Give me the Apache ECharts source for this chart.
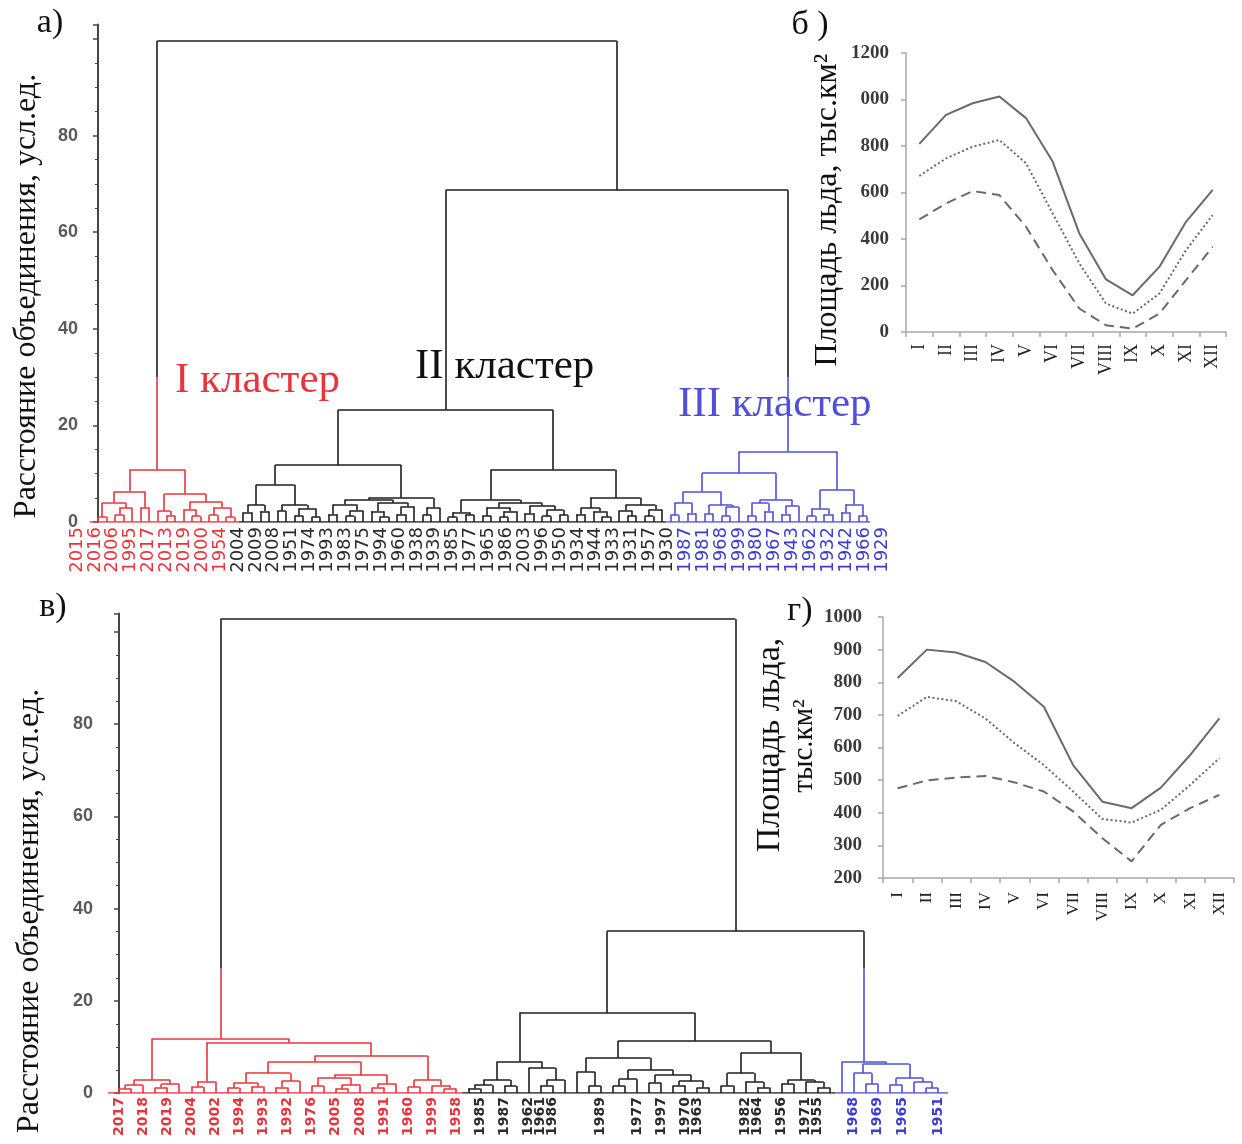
<!DOCTYPE html>
<html><head><meta charset="utf-8">
<script src="https://cdn.jsdelivr.net/npm/echarts@6/dist/echarts.min.js"></script>
<style>html,body{margin:0;padding:0;background:#fff}#c{width:1242px;height:1144px}</style>
</head><body><div id="c"></div>
<script>
// ================= DATA =================
const months = ['I','II','III','IV','V','VI','VII','VIII','IX','X','XI','XII'];
// panel б (thousand km2)
const bSolid  = [809, 934, 984, 1013, 920, 733, 424, 226, 158, 280, 474, 611];
const bDotted = [671, 747, 797, 826, 726, 510, 295, 122, 79, 165, 352, 503];
const bDashed = [484, 553, 606, 589, 453, 266, 101, 29, 14, 79, 223, 366];
// panel г (thousand km2)
const gSolid  = [813, 900, 891, 862, 801, 725, 546, 434, 414, 477, 577, 689];
const gDotted = [697, 755, 742, 689, 613, 546, 465, 381, 370, 409, 485, 567];
const gDashed = [475, 499, 508, 513, 493, 465, 404, 322, 251, 363, 414, 455];

// panel а) dendrogram: nodes are [linkage distance, left, right], leaves are years
const aClusterI = [10.8,
  [6.3, [4.0, [1.1,'2015','2012'], [2.9,[1.5,'2016','2018'],'2006']], [3.0,'2007','1995']],
  [5.8, [2.3,'2011',[1.3,'2017','2014']], [4.2, [2.6,'2013',[1.2,'2010','2019']], [3.0,[1.4,'2005','2000'],[1.0,'2002','1954']]]]];
const aClusterII = [23.2,
  [11.8,
    [7.7, [3.5,[2.0,'2001','2004'],[2.2,'1997','2009']], [3.5,[2.3,'1998','2008'],[2.8,[1.3,'1952','1951'],[1.0,'1972','1974']]]],
    [5.0, [4.6, [3.6,[1.6,'1990','1993'],[2.4,[1.2,'1989','1983'],'1976']], [4.0,[2.2,'1975',[1.1,'1991','1994']],[3.2,[1.6,'1961','1960'],'1940']]], [3.0,[1.4,'1938','1937'],'1939']]],
  [10.8,
    [4.6, [2.0,[1.0,'1984','1985'],[1.5,'1978','1977']], [3.9,[3.0,[1.3,'1963','1965'],[2.2,[1.0,'1988','1986'],'1992']],[3.3,[1.8,'2003','1970'],[2.5,[1.2,'1996','1949'],[1.4,'1950','1936']]]]],
    [5.0, [2.9,[1.6,'1934','1945'],[2.2,'1944',[1.1,'1935','1933']]], [3.5,[2.4,'1941',[1.3,'1931','1956']],[2.6,[1.2,'1957','1953'],'1930']]]]];
const aClusterIII = [14.6,
  [10.1,
    [6.3, [4.0,[1.4,'1982','1987'],[1.8,'1979','1981']], [3.5,[1.7,'1971','1968'],[3.1,[1.2,'1973','1999'],'1969']]],
    [4.6, [3.9,[1.3,'1980','1964'],[2.2,'1967','1955']], [3.3,[1.6,'1943','1958'],'1962']]],
  [6.6, [2.8,[1.2,'1946','1932'],[1.6,'1947','1942']], [3.6,[2.0,'1948','1966'],[1.2,'1959','1929']]]];
const aTopHeights = [99.6, 68.7];   // root, (II + III)
const aCutoff = 30;

// panel в) dendrogram
const vClusterI = [11.8,
  [2.8, [1.7,[1.0,'2017','2016'],'2018'], [1.9,[1.2,'2015','2019'],'2014']],
  [10.9, [2.5,[1.3,'2004','2013'],'2002'],
    [8.0,
      [6.8, [4.3,[2.2,[1.1,'2012','1994'],[1.4,'2011','1993']],[2.6,[1.2,'2010','1992'],'2009']],
            [3.9,[3.3,[1.5,'1976','2007'],[1.8,[1.0,'2005','2006'],'2008']],[2.0,[1.2,'2003','1991'],'2001']]],
      [2.8, [1.3,'1960','2000'], [1.6,'1999',[1.0,'1995','1958']]]]]];
const vClusterII = [17.4,
  [6.8, [2.8,[1.7,[1.0,'1984','1985'],'1988'],[1.5,'1987','1990']], [5.4,'1962',[2.8,[1.6,'1961','1986'],'1966']]],
  [11.3,
    [7.6, [4.6,'1967',[1.5,'1972','1989']], [5.0,[3.0,[1.5,'1973','1974'],'1977'],[3.9,[2.2,'1975','1997'],[2.6,[1.6,'1978','1970'],[1.2,'1963','1979']]]]],
    [8.7, [4.3,[1.6,'1980','1981'],[2.4,'1982',[1.2,'1964','1983']]], [2.8,[2.0,'1956','1996'],[2.4,'1971',[1.2,'1955','1998']]]]]];
const vClusterIII = [6.8, '1952', [6.3, [4.3,'1968',[2.0,'1953','1969']], [3.2,[1.8,'1954','1965'],[2.4,'1957',[1.1,'1959','1951']]]]];
const vTopHeights = [102.8, 35.1];  // root, (II + III)
const vCutoff = 27;
const vShown = ['2017','2018','2019','2004','2002','1994','1993','1992','1976','2005','2008','1991','1960','1999','1958',
  '1985','1987','1962','1961','1986','1989','1977','1997','1970','1963','1982','1964','1956','1971','1955',
  '1968','1969','1965','1951'];

// ================= BUILD =================
const RED = '#e8343c', BLUE = '#4f4fdc', BLACK = '#1e1e1e';
const SERIF = "'Liberation Serif','Times New Roman',serif";
const SANS = "'Liberation Sans',Arial,sans-serif";

function buildDendro(root, clusterColor, cutoff, xMin, xMax) {
  const leaves = [], leafColor = [], segs = [];
  function walk(node, color) {
    const c = clusterColor.get(node) || color;
    if (!Array.isArray(node)) {
      leaves.push(node); leafColor.push(c);
      return { x: leaves.length - 1, h: 0, c };
    }
    const h = node[0];
    const kids = [walk(node[1], c), walk(node[2], c)];
    kids.forEach(k => {
      if (k.c !== c && k.h < cutoff && h > cutoff) {
        segs.push([[k.x, k.h], [k.x, cutoff], k.c]);
        segs.push([[k.x, cutoff], [k.x, h], c]);
      } else segs.push([[k.x, k.h], [k.x, h], k.c]);
    });
    segs.push([[kids[0].x, h], [kids[1].x, h], c]);
    return { x: (kids[0].x + kids[1].x) / 2, h, c };
  }
  walk(root, BLACK);
  // coloured baseline under each run of leaves
  let s = 0;
  for (let i = 1; i <= leaves.length; i++) {
    if (i === leaves.length || leafColor[i] !== leafColor[s]) {
      const x0 = s === 0 ? xMin : s - 0.5;
      const x1 = i === leaves.length ? xMax : i - 0.5;
      segs.push([[x0, 0], [x1, 0], leafColor[s]]);
      s = i;
    }
  }
  return { leaves, leafColor, segs };
}

const aMin = -0.93, aMax = 90.4, vMin = -0.913, vMax = 68.83;
const aTree = [aTopHeights[0], aClusterI, [aTopHeights[1], aClusterII, aClusterIII]];
const vTree = [vTopHeights[0], vClusterI, [vTopHeights[1], vClusterII, vClusterIII]];
const aD = buildDendro(aTree, new Map([[aClusterI, RED], [aClusterII, BLACK], [aClusterIII, BLUE]]), aCutoff, aMin, aMax);
const vD = buildDendro(vTree, new Map([[vClusterI, RED], [vClusterII, BLACK], [vClusterIII, BLUE]]), vCutoff, vMin, vMax);

// labels: panel а shows every other leaf, panel в selected leaves
const aLabelIdx = aD.leaves.map((_, i) => i).filter(i => i % 2 === 0);
const aLabels = aLabelIdx.map(i => aD.leaves[i]);
const aLabelKey = aLabelIdx.map(i => aD.leafColor[i] === RED ? 'r' : aD.leafColor[i] === BLUE ? 'b' : 'k');
const vShownSet = new Set(vShown);
const vLabels = vD.leaves.map(y => vShownSet.has(y) ? y : '');
const vLabelKey = vD.leafColor.map(c => c === RED ? 'r' : c === BLUE ? 'b' : 'k');

function rich(size, weight) {
  const base = { fontSize: size, fontFamily: "'DejaVu Sans',sans-serif", fontWeight: weight };
  return { r: Object.assign({ color: RED }, base), k: Object.assign({ color: '#2a2a2a' }, base), b: Object.assign({ color: '#3c3cd2' }, base) };
}

function linesSeries(d, idx) {
  return {
    type: 'lines', coordinateSystem: 'cartesian2d', xAxisIndex: idx, yAxisIndex: idx, silent: true,
    lineStyle: { width: 1.6, opacity: 1 },
    data: d.segs.map(s => ({ coords: [s[0], s[1]], lineStyle: { color: s[2], width: 1.6, opacity: 1 } }))
  };
}

const dendroY = (gi, max, margin) => ({
  gridIndex: gi, type: 'value', min: 0, max: max, interval: 20,
  axisLine: { show: true, lineStyle: { color: '#454545', width: 2 } },
  axisTick: { show: true, length: 5, lineStyle: { color: '#454545', width: 1.5 } },
  minorTick: { show: true, splitNumber: 4, length: 3, lineStyle: { color: '#454545', width: 1 } },
  splitLine: { show: false },
  axisLabel: { margin: margin, color: '#5a5a5a', fontWeight: 'bold', fontSize: 18, fontFamily: SANS,
    showMaxLabel: false,
    formatter: v => (v % 20 === 0 && v !== 100 ? String(v) : '') }
});
const hiddenX = (gi, min, max) => ({ gridIndex: gi, type: 'value', min, max, show: false });
const hiddenY = gi => ({ gridIndex: gi, type: 'value', min: 0, max: 1, show: false });

const lineY = (gi, min, max, interval, margin, fmt) => ({
  gridIndex: gi, type: 'value', min, max, interval,
  axisLine: { show: true, lineStyle: { color: '#a8a8a8', width: 1.5 } },
  axisTick: { show: true, length: 5, lineStyle: { color: '#a8a8a8', width: 1.5 } },
  splitLine: { show: false },
  axisLabel: { margin, color: '#3a3a3a', fontWeight: 'bold', fontSize: 19, fontFamily: SERIF, formatter: fmt }
});
const lineX = (gi, margin, size) => ({
  gridIndex: gi, type: 'category', data: months, boundaryGap: true,
  axisLine: { show: true, lineStyle: { color: '#a8a8a8', width: 1.5 } },
  axisTick: { show: true, length: 5, lineStyle: { color: '#a8a8a8', width: 1.5 } },
  axisLabel: { rotate: 90, interval: 0, margin, color: '#222', fontSize: size, fontFamily: SERIF }
});
const lineS = (gi, data, type) => ({
  type: 'line', xAxisIndex: gi, yAxisIndex: gi, data, symbol: 'none', silent: true,
  lineStyle: { color: '#6a6a6a', width: 2, type }
});

const txt = (text, x, y, size, color, rot, align) => ({
  type: 'text', x, y, rotation: rot || 0, silent: true,
  style: { text, fill: color || '#111', font: size + 'px ' + SERIF,
    align: align || 'center', textAlign: align || 'center', verticalAlign: 'middle', textVerticalAlign: 'middle' }
});

const option = {
  animation: false,
  backgroundColor: '#fff',
  grid: [
    { left: 90, top: 24.5, width: 780.3, height: 497.5 },          // 0 dendrogram а
    { left: 68, top: 480, width: 823, height: 42 },                // 1 labels а
    { left: 108, top: 613.6, width: 840, height: 479.4 },          // 2 dendrogram в
    { left: 112.98, top: 1050, width: 831.04, height: 43 },        // 3 labels в
    { left: 906, top: 53, width: 320, height: 279 },               // 4 б
    { left: 883, top: 617, width: 351, height: 261 }               // 5 г
  ],
  xAxis: [
    hiddenX(0, aMin, aMax),
    { gridIndex: 1, type: 'category', data: aLabels, boundaryGap: true,
      axisLine: { show: false }, axisTick: { show: false },
      axisLabel: { rotate: 90, interval: 0, margin: 5, rich: rich(18, 'normal'),
        formatter: (v, i) => '{' + aLabelKey[i] + '|' + v + '}' } },
    hiddenX(2, vMin, vMax),
    { gridIndex: 3, type: 'category', data: vLabels, boundaryGap: true,
      axisLine: { show: false }, axisTick: { show: false },
      axisLabel: { rotate: 90, interval: 0, margin: 4, rich: rich(14, 'bold'),
        formatter: (v, i) => (v ? '{' + vLabelKey[i] + '|' + v + '}' : '') } },
    lineX(4, 12, 18),
    lineX(5, 14, 17)
  ],
  yAxis: [
    dendroY(0, 103, 12),
    hiddenY(1),
    dendroY(2, 104, 15),
    hiddenY(3),
    lineY(4, 0, 1200, 200, 17, v => (v === 1000 ? '000' : String(v))),
    lineY(5, 200, 1000, 100, 21, v => String(v))
  ],
  series: [
    linesSeries(aD, 0),
    linesSeries(vD, 2),
    lineS(4, bSolid, 'solid'), lineS(4, bDotted, [2, 2.5]), lineS(4, bDashed, [10, 6]),
    lineS(5, gSolid, 'solid'), lineS(5, gDotted, [2, 2.5]), lineS(5, gDashed, [10, 6])
  ],
  graphic: [
    txt('а)', 50, 23, 34),
    txt('б )', 810, 25, 34),
    txt('в)', 53, 607, 34),
    txt('г)', 800, 611, 34),
    txt('Расстояние объединения, усл.ед.', 27, 296, 32, '#111', Math.PI / 2),
    txt('Расстояние объединения, усл.ед.', 30, 911, 32, '#111', Math.PI / 2),
    txt('Площадь льда, тыс.км²', 828, 210, 32, '#111', Math.PI / 2),
    txt('Площадь льда,', 770, 745, 34, '#111', Math.PI / 2),
    txt('тыс.км²', 804, 746, 29, '#111', Math.PI / 2),
    txt('I кластер', 175, 381, 43, RED, 0, 'left'),
    txt('II кластер', 415, 367, 43, '#111', 0, 'left'),
    txt('III кластер', 678, 405, 43, BLUE, 0, 'left')
  ]
};

const chart = echarts.init(document.getElementById('c'), null, { renderer: 'canvas' });
chart.setOption(option);
</script>
</body></html>
